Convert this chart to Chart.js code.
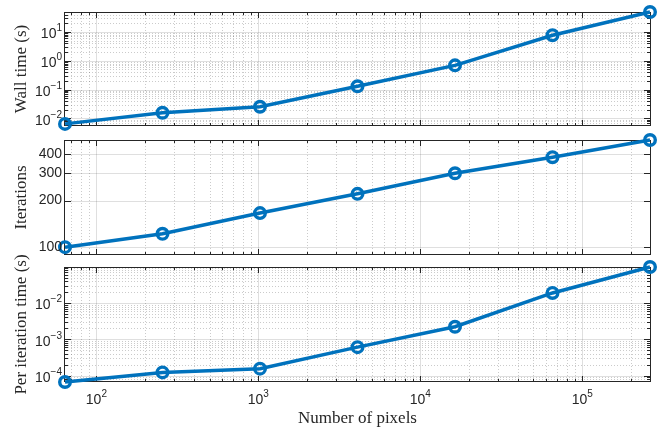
<!DOCTYPE html>
<html>
<head>
<meta charset="utf-8">
<script src="https://cdn.jsdelivr.net/npm/chart.js@4.4.1/dist/chart.umd.min.js"></script>
<style>
  html, body { margin: 0; padding: 0; background: #ffffff; }
  #wrap { position: relative; width: 672px; height: 428px; }
  #wrap canvas { position: absolute; left: 0; top: 0; }
</style>
</head>
<body>
<div id="wrap">
  <canvas id="c1" width="672" height="428"></canvas>
  <canvas id="c2" width="672" height="428"></canvas>
  <canvas id="c3" width="672" height="428"></canvas>
</div>
<script>
// ---------------- data ----------------
const pixels = [64, 256, 1024, 4096, 16384, 65536, 262144];
const wallTime = [0.0064, 0.0156, 0.0252, 0.13, 0.69, 7.7, 49.3];
const iterations = [100, 122, 166, 221, 300, 381, 492];
const perIterTime = [6.7e-5, 1.23e-4, 1.56e-4, 6.1e-4, 2.22e-3, 0.0189, 0.098];

// axis ranges
const xRange = [64, 262144];
const wallRange = [0.0054, 49.3];
const iterRange = [89, 492];
const perIterRange = [6.7e-5, 0.098];

// tick labels
const xTickExps = [2, 3, 4, 5];
const wallTickExps = [-2, -1, 0, 1];
const iterTicks = [100, 200, 300, 400];
const perIterTickExps = [-4, -3, -2];

// titles
const xTitle = 'Number of pixels';
const wallTitle = 'Wall time (s)';
const iterTitle = 'Iterations';
const perIterTitle = 'Per iteration time (s)';

// ---------------- styling ----------------
const BLUE = '#0072BD';
const AXIS = '#262626';
const MAJOR_GRID = 'rgba(38,38,38,0.15)';
const MINOR_GRID = 'rgba(38,38,38,0.24)';
const TICK_FONT = '"Liberation Sans", Arial, sans-serif';
const TITLE_FONT = '"Liberation Serif", "Times New Roman", serif';

function minorValues(min, max) {
  const out = [];
  const e0 = Math.floor(Math.log10(min)) , e1 = Math.ceil(Math.log10(max));
  for (let e = e0; e <= e1; e++) {
    for (let k = 2; k <= 9; k++) {
      const v = k * Math.pow(10, e);
      if (v >= min && v <= max) out.push(v);
    }
  }
  return out;
}

function expLabel(e) {
  return { base: '10', sup: (e < 0 ? '\u2212' + Math.abs(e) : String(e)) };
}

function drawPow(ctx, e, x, y, align) {
  const lab = expLabel(e);
  ctx.font = '14px ' + TICK_FONT;
  const wb = ctx.measureText(lab.base).width;
  ctx.font = '10px ' + TICK_FONT;
  const ws = ctx.measureText(lab.sup).width;
  const total = wb + ws;
  let x0 = align === 'right' ? x - total : x - total / 2;
  ctx.textAlign = 'left';
  ctx.textBaseline = 'middle';
  ctx.font = '14px ' + TICK_FONT;
  ctx.fillText(lab.base, x0, y + 2.5);
  ctx.font = '10px ' + TICK_FONT;
  ctx.fillText(lab.sup, x0 + wb, y - 3.5);
}

const matlabAxes = {
  id: 'matlabAxes',
  beforeDatasetsDraw(chart, args, o) {
    const ctx = chart.ctx, a = chart.chartArea;
    const xs = chart.scales.x, ys = chart.scales.y;
    const line = (x1, y1, x2, y2) => { ctx.beginPath(); ctx.moveTo(x1, y1); ctx.lineTo(x2, y2); ctx.stroke(); };
    const xMinor = minorValues(xs.min, xs.max);
    const xMajor = xTickExps.map(e => Math.pow(10, e));
    const yMinor = o.yMinor ? minorValues(ys.min, ys.max) : [];
    const yMajor = o.yMajor;
    ctx.save();
    ctx.lineWidth = 1;
    // minor grid (dotted)
    ctx.strokeStyle = MINOR_GRID;
    ctx.setLineDash([1, 2]);
    xMinor.forEach(v => { const p = Math.round(xs.getPixelForValue(v)) + 0.5; line(p, a.top, p, a.bottom); });
    yMinor.forEach(v => { const p = Math.round(ys.getPixelForValue(v)) + 0.5; line(a.left, p, a.right, p); });
    // major grid
    ctx.setLineDash([]);
    ctx.strokeStyle = MAJOR_GRID;
    xMajor.forEach(v => { const p = Math.round(xs.getPixelForValue(v)) + 0.5; line(p, a.top, p, a.bottom); });
    yMajor.forEach(v => { const p = Math.round(ys.getPixelForValue(v)) + 0.5; line(a.left, p, a.right, p); });
    // box
    ctx.strokeStyle = AXIS;
    ctx.strokeRect(Math.round(a.left) - 0.5, Math.round(a.top) + 0.5, Math.round(a.right - a.left) + 1, Math.round(a.bottom - a.top) - 1);
    // ticks (inward, all four sides)
    const tick = (arr, len, vertical) => {
      arr.forEach(v => {
        if (vertical) {
          const p = Math.round(xs.getPixelForValue(v)) + 0.5;
          line(p, a.bottom, p, a.bottom - len);
          line(p, a.top, p, a.top + len);
        } else {
          const p = Math.round(ys.getPixelForValue(v)) + 0.5;
          line(a.left, p, a.left + len, p);
          line(a.right, p, a.right - len, p);
        }
      });
    };
    tick(xMinor, 3, true);
    tick(xMajor, 6, true);
    tick(yMinor, 3, false);
    tick(yMajor, 6, false);
    ctx.restore();
  },
  afterDraw(chart, args, o) {
    const ctx = chart.ctx, a = chart.chartArea;
    const xs = chart.scales.x, ys = chart.scales.y;
    ctx.save();
    ctx.fillStyle = AXIS;
    // y tick labels
    if (o.yExps) {
      o.yExps.forEach(e => drawPow(ctx, e, a.left - 3, ys.getPixelForValue(Math.pow(10, e)), 'right'));
    } else {
      ctx.font = '14px ' + TICK_FONT;
      ctx.textAlign = 'right';
      ctx.textBaseline = 'middle';
      o.yMajor.forEach(v => ctx.fillText(String(v), a.left - 3, ys.getPixelForValue(v)));
    }
    // x tick labels + title
    if (o.showX) {
      xTickExps.forEach(e => drawPow(ctx, e, xs.getPixelForValue(Math.pow(10, e)), a.bottom + 15.5, 'center'));
      ctx.font = '17px ' + TITLE_FONT;
      ctx.textAlign = 'center';
      ctx.textBaseline = 'alphabetic';
      ctx.fillText(xTitle, (a.left + a.right) / 2, a.bottom + 40.5);
    }
    // y title
    ctx.translate(22, (a.top + a.bottom) / 2);
    ctx.rotate(-Math.PI / 2);
    ctx.font = '17px ' + TITLE_FONT;
    ctx.textAlign = 'center';
    ctx.textBaseline = 'middle';
    ctx.fillText(o.title, 0, 0);
    ctx.restore();
  }
};

function makePanel(id, yValues, yRange, padTop, padBottom, opts) {
  return new Chart(document.getElementById(id), {
    type: 'line',
    data: {
      datasets: [{
        data: pixels.map((p, i) => ({ x: p, y: yValues[i] })),
        borderColor: BLUE,
        borderWidth: 3.5,
        pointRadius: 5.3,
        pointBorderWidth: 3.4,
        pointBorderColor: BLUE,
        pointBackgroundColor: 'rgba(0,0,0,0)',
        tension: 0,
        clip: false
      }]
    },
    options: {
      responsive: false,
      animation: false,
      devicePixelRatio: 1,
      layout: { padding: { left: 65, right: 22, top: padTop, bottom: padBottom } },
      plugins: { legend: { display: false }, tooltip: { enabled: false }, matlabAxes: opts },
      scales: {
        x: { type: 'logarithmic', min: xRange[0], max: xRange[1], display: false },
        y: { type: 'logarithmic', min: yRange[0], max: yRange[1], display: false }
      }
    },
    plugins: [matlabAxes]
  });
}

makePanel('c1', wallTime, wallRange, 12, 428 - 126, {
  yMajor: wallTickExps.map(e => Math.pow(10, e)), yMinor: true, yExps: wallTickExps, title: wallTitle, showX: false
});
makePanel('c2', iterations, iterRange, 140, 428 - 255, {
  yMajor: iterTicks, yMinor: false, yExps: null, title: iterTitle, showX: false
});
makePanel('c3', perIterTime, perIterRange, 267, 428 - 382, {
  yMajor: perIterTickExps.map(e => Math.pow(10, e)), yMinor: true, yExps: perIterTickExps, title: perIterTitle, showX: true
});
</script>
</body>
</html>
